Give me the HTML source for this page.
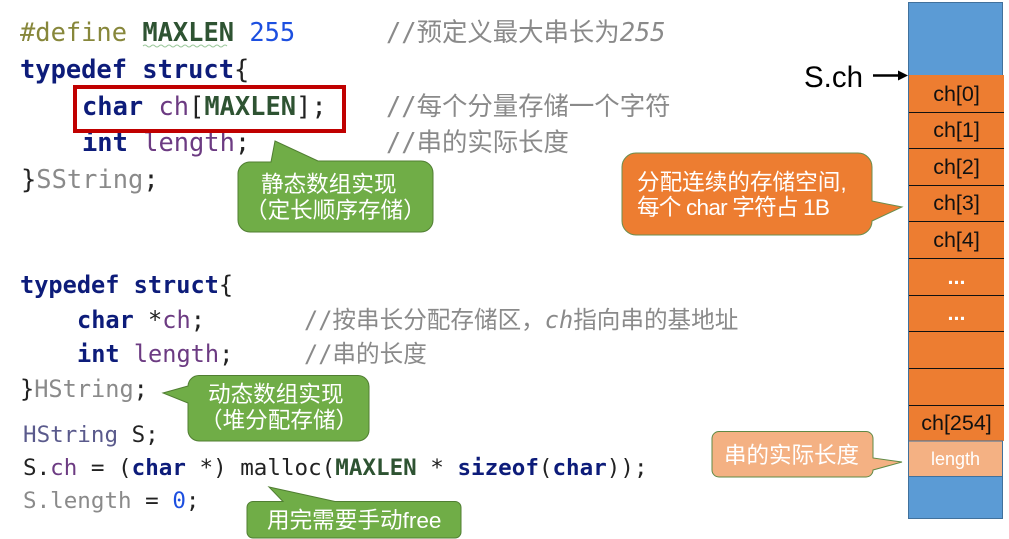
<!DOCTYPE html>
<html><head><meta charset="utf-8">
<style>
html,body{margin:0;padding:0;background:#fff;width:1009px;height:539px;overflow:hidden}
svg{display:block}
.m{font-family:"DejaVu Sans Mono","Noto Sans CJK SC",monospace;white-space:pre}
.a{font-size:25.4px}
.b{font-size:23.6px}
.c{font-size:22.55px}
.k{fill:#0f1f7a;font-weight:bold}
.g{fill:#8a8a8a}
.d{fill:#222}
.p{fill:#6c3a82}
.t{fill:#2f5233;font-weight:bold}
.s{font-family:"Liberation Sans","Noto Sans CJK SC",sans-serif}
.w{fill:#fff;font-size:22.6px}
.x{font-size:21.5px;fill:#111;text-anchor:middle}
.blur{filter:url(#bl)}
</style></head><body>
<svg width="1009" height="539" viewBox="0 0 1009 539" xmlns="http://www.w3.org/2000/svg">
<defs><filter id="bl" x="0" y="0" width="100%" height="100%"><feGaussianBlur stdDeviation="0.35"/></filter></defs>
<rect width="1009" height="539" fill="#fff"/>

<g class="blur">
<text class="m a" x="20" y="41"><tspan fill="#87873a">#define</tspan> <tspan class="t">MAXLEN</tspan> <tspan fill="#1f4fe0">255</tspan></text>
<path d="M143 46q2-2 4 0t4 0 4 0 4 0 4 0 4 0 4 0 4 0 4 0 4 0 4 0 4 0 4 0 4 0 4 0 4 0 4 0 4 0 4 0 4 0 4 0" fill="none" stroke="#9ac79a" stroke-width="1"/>
<text class="m a g" x="386" y="41">//预定义最大串长为<tspan font-style="italic">255</tspan></text>
<text class="m a" x="20" y="78"><tspan class="k">typedef struct</tspan><tspan class="d">{</tspan></text>
<text class="m a" x="82" y="115"><tspan class="k">char</tspan> <tspan class="p">ch</tspan><tspan class="d">[</tspan><tspan class="t">MAXLEN</tspan><tspan class="d">];</tspan></text>
<text class="m a g" x="386" y="115">//每个分量存储一个字符</text>
<text class="m a" x="82" y="151"><tspan class="k">int</tspan> <tspan class="p">length</tspan><tspan class="d">;</tspan></text>
<text class="m a g" x="386" y="151">//串的实际长度</text>
<text class="m a" x="21" y="188"><tspan class="d">}</tspan><tspan class="g">SString</tspan><tspan class="d">;</tspan></text>

<text class="m b" x="20" y="293"><tspan class="k">typedef struct</tspan><tspan class="d">{</tspan></text>
<text class="m b" x="77" y="328"><tspan class="k">char</tspan> <tspan class="d">*</tspan><tspan class="p">ch</tspan><tspan class="d">;</tspan></text>
<text class="m b g" x="304" y="328">//按串长分配存储区，<tspan font-style="italic">ch</tspan>指向串的基地址</text>
<text class="m b" x="77" y="362"><tspan class="k">int</tspan> <tspan class="p">length</tspan><tspan class="d">;</tspan></text>
<text class="m b g" x="304" y="362">//串的长度</text>
<text class="m b" x="20" y="397"><tspan class="d">}</tspan><tspan class="g">HString</tspan><tspan class="d">;</tspan></text>

<text class="m c" x="23" y="442"><tspan fill="#5a5a8c">HString</tspan><tspan class="d"> S;</tspan></text>
<text class="m c" x="23" y="475"><tspan class="d">S.</tspan><tspan class="p">ch</tspan><tspan class="d"> = (</tspan><tspan class="k">char</tspan><tspan class="d"> *) malloc(</tspan><tspan class="t">MAXLEN</tspan><tspan class="d"> * </tspan><tspan class="k">sizeof</tspan><tspan class="d">(</tspan><tspan class="k">char</tspan><tspan class="d">));</tspan></text>
<text class="m c" x="23" y="508"><tspan class="g">S.length</tspan><tspan class="d"> = </tspan><tspan fill="#1f4fe0">0</tspan><tspan class="d">;</tspan></text>
</g>

<rect x="75" y="87" width="269" height="44" fill="none" stroke="#c00000" stroke-width="4"/>

<!-- memory column -->
<rect x="908.5" y="2.5" width="94" height="516" fill="#5b9bd5" stroke="#41719c"/>
<rect x="909" y="75" width="95" height="366" fill="#ed7d31"/>
<rect x="908.5" y="441" width="94" height="35.5" fill="#f4b183" stroke="#41719c"/>
<path d="M908.5 75V441" stroke="#41719c" fill="none"/>
<g stroke="#111" stroke-width="1">
<path d="M909 112.5H1004M909 148.5H1004M909 185.5H1004M909 221.5H1004M909 258.5H1004M909 295.5H1004M909 331.5H1004M909 368.5H1004M909 405.5H1004"/>
</g>
<g class="s x">
<text x="956.500" y="101">ch[0]</text>
<text x="956.500" y="137">ch[1]</text>
<text x="956.500" y="174">ch[2]</text>
<text x="956.500" y="210">ch[3]</text>
<text x="956.500" y="247">ch[4]</text>
<text x="956.500" y="284" style="fill:#fff;font-weight:bold">...</text>
<text x="956.500" y="320" style="fill:#fff;font-weight:bold">...</text>
<text x="956.500" y="430">ch[254]</text>
<text x="955.500" y="465" style="fill:#fff;font-size:18px">length</text>
</g>

<!-- S.ch pointer -->
<text class="s" x="804" y="87" font-size="30" fill="#000" textLength="59" lengthAdjust="spacingAndGlyphs">S.ch</text>
<path d="M873 75.500H900" stroke="#000" stroke-width="2.500"/>
<path d="M898 70.500L908 75.500L898 80.500Z" fill="#000"/>

<!-- callouts -->
<path d="M250 162H271L275 141L318 161H421a12 12 0 0 1 12 12V220a12 12 0 0 1-12 12H250a12 12 0 0 1-12-12V173a12 12 0 0 1 11-11Z" fill="#70ad47" stroke="#507e32"/>
<text class="s w" x="261" y="192">静态数组实现</text>
<text class="s w" x="245" y="218">（定长顺序存储）</text>

<path d="M199 375.500H358a11 11 0 0 1 11 11V430a11 11 0 0 1-11 11H199a11 11 0 0 1-11-11V403L163 393L188 386a11 11 0 0 1 11-10.500Z" fill="#70ad47" stroke="#507e32"/>
<text class="s w" x="208" y="402">动态数组实现</text>
<text class="s w" x="200" y="428">（堆分配存储）</text>

<path d="M253 501.500H283L269 487L335 501.500H455a6 6 0 0 1 6 6V532a6 6 0 0 1-6 6H253a6 6 0 0 1-6-6V507.500a6 6 0 0 1 6-6Z" fill="#70ad47" stroke="#507e32"/>
<text class="s w" x="267" y="528">用完需要手动free</text>

<path d="M636 153H858a14 14 0 0 1 14 14V201L902 207L872 221a14 14 0 0 1-14 14H636a14 14 0 0 1-14-14V167a14 14 0 0 1 14-14Z" fill="#ed7d31" stroke="#6b8e4e"/>
<text class="s" x="637" y="190" font-size="22.600" fill="#fff">分配连续的存储空间,</text>
<text class="s" x="637" y="215" font-size="22.600" fill="#fff" textLength="193" lengthAdjust="spacing">每个 char 字符占 1B</text>

<path d="M719 431.500H866a7 7 0 0 1 7 7V458L902 462L873 470a7 7 0 0 1-7 7H719a7 7 0 0 1-7-7V438.500a7 7 0 0 1 7-7Z" fill="#f4b183" stroke="#5f8a45"/>
<text class="s" x="724" y="463" font-size="22.500" fill="#fff">串的实际长度</text>
</svg>
</body></html>
